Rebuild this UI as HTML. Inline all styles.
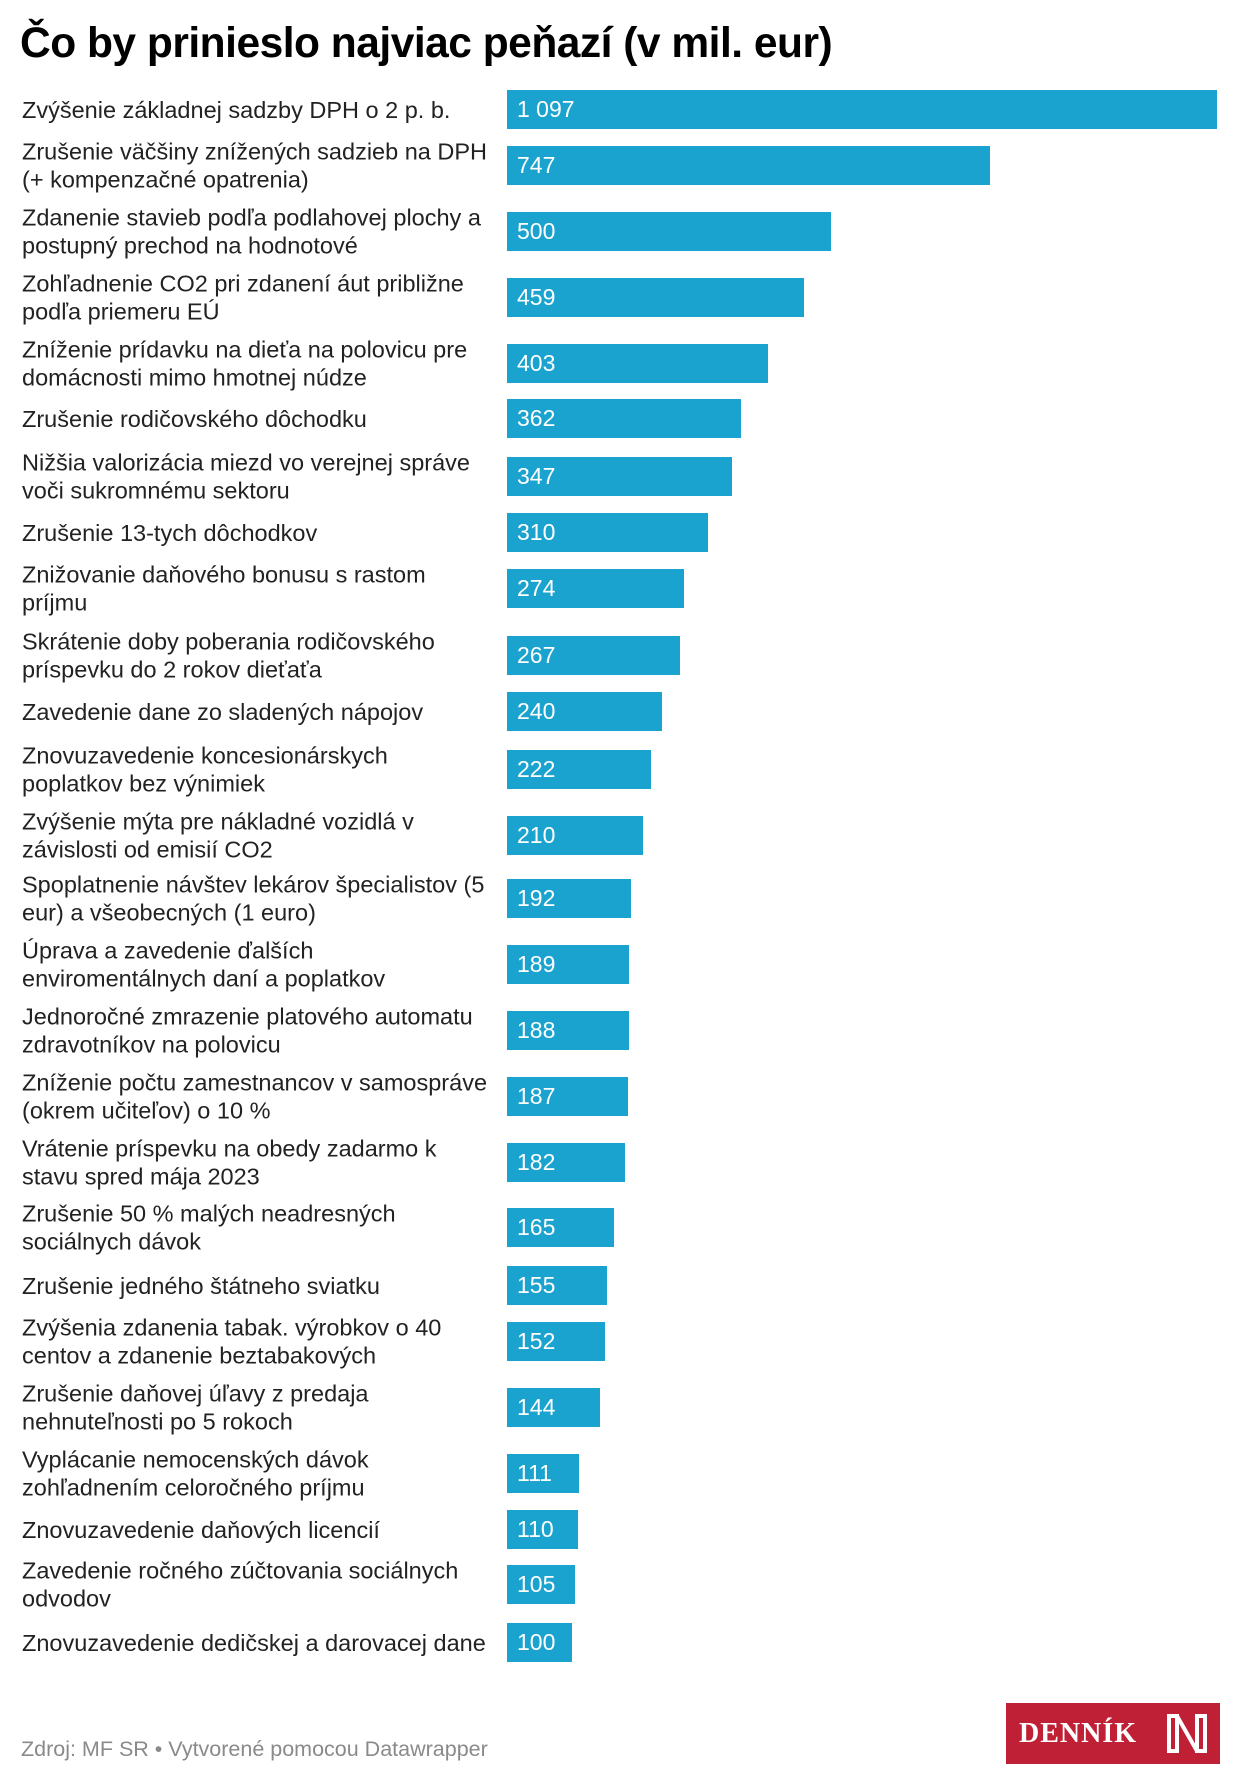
<!DOCTYPE html>
<html><head><meta charset="utf-8"><style>
body{margin:0;width:1240px;height:1784px;background:#fff;position:relative;font-family:"Liberation Sans",Arial,sans-serif;overflow:hidden}
h1{position:absolute;left:20px;top:20px;margin:0;font-size:42.5px;font-weight:bold;color:#000;letter-spacing:-0.5px;white-space:nowrap}
.row{position:absolute;left:0;width:1240px;height:39px}
.lab{position:absolute;left:22px;top:50%;transform:translateY(-50%);font-size:23.5px;line-height:28.5px;color:#222;white-space:nowrap}
.bar{position:absolute;left:507px;top:0;height:39px;background:#1ba3cf;color:#fff;font-size:23px;line-height:39px;box-sizing:border-box;padding-left:10px;white-space:nowrap}
.foot{position:absolute;left:21px;top:1737px;font-size:21.5px;color:#8a8a8a}
.logo{position:absolute;left:1006px;top:1703px;width:214px;height:61px;background:#c02035;color:#fff;font-family:"Liberation Serif",serif;font-weight:bold}
</style></head><body>
<h1>Čo by prinieslo najviac peňazí (v mil. eur)</h1>

<div class="row" style="top:90px"><div class="lab">Zvýšenie základnej sadzby DPH o 2 p. b.</div><div class="bar" style="width:710px">1 097</div></div>
<div class="row" style="top:146px"><div class="lab">Zrušenie väčšiny znížených sadzieb na DPH<br>(+ kompenzačné opatrenia)</div><div class="bar" style="width:483px">747</div></div>
<div class="row" style="top:212px"><div class="lab">Zdanenie stavieb podľa podlahovej plochy a<br>postupný prechod na hodnotové</div><div class="bar" style="width:324px">500</div></div>
<div class="row" style="top:278px"><div class="lab">Zohľadnenie CO2 pri zdanení áut približne<br>podľa priemeru EÚ</div><div class="bar" style="width:297px">459</div></div>
<div class="row" style="top:344px"><div class="lab">Zníženie prídavku na dieťa na polovicu pre<br>domácnosti mimo hmotnej núdze</div><div class="bar" style="width:261px">403</div></div>
<div class="row" style="top:399px"><div class="lab">Zrušenie rodičovského dôchodku</div><div class="bar" style="width:234px">362</div></div>
<div class="row" style="top:457px"><div class="lab">Nižšia valorizácia miezd vo verejnej správe<br>voči sukromnému sektoru</div><div class="bar" style="width:225px">347</div></div>
<div class="row" style="top:513px"><div class="lab">Zrušenie 13-tych dôchodkov</div><div class="bar" style="width:201px">310</div></div>
<div class="row" style="top:569px"><div class="lab">Znižovanie daňového bonusu s rastom<br>príjmu</div><div class="bar" style="width:177px">274</div></div>
<div class="row" style="top:636px"><div class="lab">Skrátenie doby poberania rodičovského<br>príspevku do 2 rokov dieťaťa</div><div class="bar" style="width:173px">267</div></div>
<div class="row" style="top:692px"><div class="lab">Zavedenie dane zo sladených nápojov</div><div class="bar" style="width:155px">240</div></div>
<div class="row" style="top:750px"><div class="lab">Znovuzavedenie koncesionárskych<br>poplatkov bez výnimiek</div><div class="bar" style="width:144px">222</div></div>
<div class="row" style="top:816px"><div class="lab">Zvýšenie mýta pre nákladné vozidlá v<br>závislosti od emisií CO2</div><div class="bar" style="width:136px">210</div></div>
<div class="row" style="top:879px"><div class="lab">Spoplatnenie návštev lekárov špecialistov (5<br>eur) a všeobecných (1 euro)</div><div class="bar" style="width:124px">192</div></div>
<div class="row" style="top:945px"><div class="lab">Úprava a zavedenie ďalších<br>enviromentálnych daní a poplatkov</div><div class="bar" style="width:122px">189</div></div>
<div class="row" style="top:1011px"><div class="lab">Jednoročné zmrazenie platového automatu<br>zdravotníkov na polovicu</div><div class="bar" style="width:122px">188</div></div>
<div class="row" style="top:1077px"><div class="lab">Zníženie počtu zamestnancov v samospráve<br>(okrem učiteľov) o 10 %</div><div class="bar" style="width:121px">187</div></div>
<div class="row" style="top:1143px"><div class="lab">Vrátenie príspevku na obedy zadarmo k<br>stavu spred mája 2023</div><div class="bar" style="width:118px">182</div></div>
<div class="row" style="top:1208px"><div class="lab">Zrušenie 50 % malých neadresných<br>sociálnych dávok</div><div class="bar" style="width:107px">165</div></div>
<div class="row" style="top:1266px"><div class="lab">Zrušenie jedného štátneho sviatku</div><div class="bar" style="width:100px">155</div></div>
<div class="row" style="top:1322px"><div class="lab">Zvýšenia zdanenia tabak. výrobkov o 40<br>centov a zdanenie beztabakových</div><div class="bar" style="width:98px">152</div></div>
<div class="row" style="top:1388px"><div class="lab">Zrušenie daňovej úľavy z predaja<br>nehnuteľnosti po 5 rokoch</div><div class="bar" style="width:93px">144</div></div>
<div class="row" style="top:1454px"><div class="lab">Vyplácanie nemocenských dávok<br>zohľadnením celoročného príjmu</div><div class="bar" style="width:72px">111</div></div>
<div class="row" style="top:1510px"><div class="lab">Znovuzavedenie daňových licencií</div><div class="bar" style="width:71px">110</div></div>
<div class="row" style="top:1565px"><div class="lab">Zavedenie ročného zúčtovania sociálnych<br>odvodov</div><div class="bar" style="width:68px">105</div></div>
<div class="row" style="top:1623px"><div class="lab">Znovuzavedenie dedičskej a darovacej dane</div><div class="bar" style="width:65px">100</div></div>

<div class="foot">Zdroj: MF SR • Vytvorené pomocou Datawrapper</div>
<div class="logo">
<span style="position:absolute;left:13px;top:15px;font-size:28px;letter-spacing:1px">DENNÍK</span>
<svg style="position:absolute;left:160px;top:10px" width="42" height="41" viewBox="0 0 42 41">
<path d="M3 3h8v35H3zM31 3h8v35h-8zM11 3l20 35" stroke="#fff" stroke-width="4" fill="none"/>
</svg>
</div>
</body></html>
